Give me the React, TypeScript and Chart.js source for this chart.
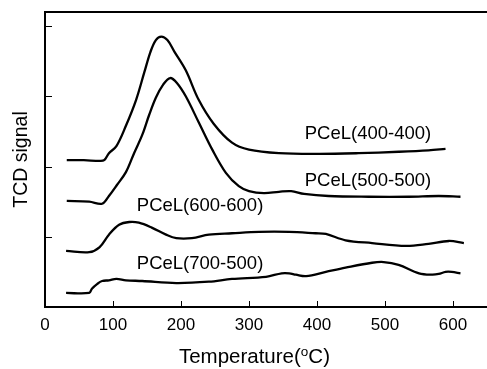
import React, { useEffect, useRef } from "react";
import { Chart, registerables } from "chart.js";

Chart.register(...registerables);

// Temperature (°C) / TCD signal (a.u.) readings
const t400 = [32, 57, 80, 87, 94, 105, 119, 134, 146, 155, 163, 171, 180, 190, 207, 226, 248, 275, 300, 344, 403, 461, 520, 564, 589];
const v400 = [2.09, 2.09, 2.08, 2.09, 2.19, 2.29, 2.58, 2.95, 3.34, 3.63, 3.8, 3.85, 3.8, 3.64, 3.37, 2.95, 2.61, 2.34, 2.24, 2.19, 2.18, 2.19, 2.21, 2.23, 2.25];

const t500 = [32, 65, 84, 94, 106, 119, 131, 143, 153, 163, 174, 184, 194, 207, 226, 246, 266, 285, 300, 322, 344, 362, 381, 417, 476, 535, 579, 611];
const v500 = [1.51, 1.5, 1.47, 1.58, 1.74, 1.92, 2.19, 2.45, 2.73, 2.98, 3.17, 3.26, 3.19, 3.0, 2.63, 2.24, 1.91, 1.72, 1.65, 1.62, 1.64, 1.65, 1.61, 1.58, 1.57, 1.57, 1.58, 1.57];

const t600 = [31, 65, 80, 94, 109, 124, 138, 157, 178, 193, 216, 241, 275, 315, 359, 398, 413, 442, 481, 531, 564, 594, 616];
const v600 = [0.8, 0.78, 0.85, 1.03, 1.17, 1.21, 1.2, 1.13, 1.03, 0.98, 0.98, 1.03, 1.05, 1.07, 1.07, 1.05, 1.04, 0.95, 0.91, 0.87, 0.9, 0.94, 0.91];

const t700 = [31, 65, 69, 77, 84, 94, 105, 119, 143, 193, 241, 275, 325, 348, 359, 369, 384, 413, 442, 481, 498, 520, 550, 569, 579, 589, 598, 611];
const v700 = [0.2, 0.2, 0.26, 0.33, 0.37, 0.38, 0.4, 0.38, 0.37, 0.34, 0.36, 0.4, 0.43, 0.48, 0.48, 0.46, 0.44, 0.5, 0.56, 0.63, 0.64, 0.6, 0.48, 0.46, 0.47, 0.5, 0.5, 0.48];

const seriesNames = ["PCeL(400-400)", "PCeL(500-500)", "PCeL(600-600)", "PCeL(700-500)"];
// label anchors in data units (temperature, signal)
const labelX = [382, 382, 135, 135];
const labelY = [2.46, 1.79, 1.445, 0.62];

const xTicks = [0, 100, 200, 300, 400, 500, 600];
const yTicks = [1, 2, 3, 4];

const xTitleParts = ["Temperature(", "o", "C)"];

const FONT = "'Liberation Sans', Arial, Helvetica, sans-serif";

function pts(xs: number[], ys: number[]) {
  return xs.map((x, i) => ({ x, y: ys[i] }));
}

const decorPlugin = {
  id: "decor",
  afterDraw(chart: any) {
    const { ctx, chartArea, scales } = chart;
    const xs = scales.x;
    const ys = scales.y;
    ctx.save();
    ctx.strokeStyle = "#000";
    // top frame line
    ctx.lineWidth = 2;
    ctx.beginPath();
    ctx.moveTo(chartArea.left - 1, chartArea.top);
    ctx.lineTo(chartArea.right, chartArea.top);
    ctx.stroke();
    // inward ticks
    ctx.lineWidth = 1;
    ctx.beginPath();
    xTicks.forEach((v) => {
      const px = Math.round(xs.getPixelForValue(v)) + 0.5;
      ctx.moveTo(px, chartArea.bottom);
      ctx.lineTo(px, chartArea.bottom - 6);
    });
    yTicks.forEach((v) => {
      const py = Math.round(ys.getPixelForValue(v)) + 0.5;
      ctx.moveTo(chartArea.left, py);
      ctx.lineTo(chartArea.left + 7, py);
    });
    ctx.stroke();
    // series labels
    ctx.fillStyle = "#000";
    ctx.font = `18.5px ${FONT}`;
    ctx.textAlign = "left";
    ctx.textBaseline = "middle";
    seriesNames.forEach((name, i) => {
      ctx.fillText(name, xs.getPixelForValue(labelX[i]), ys.getPixelForValue(labelY[i]));
    });
    // x axis title with superscript o
    const big = `20.5px ${FONT}`;
    const small = `13.5px ${FONT}`;
    ctx.textBaseline = "alphabetic";
    ctx.font = big;
    const w0 = ctx.measureText(xTitleParts[0]).width;
    const w2 = ctx.measureText(xTitleParts[2]).width;
    ctx.font = small;
    const w1 = ctx.measureText(xTitleParts[1]).width;
    const total = w0 + w1 + w2;
    const cx = xs.getPixelForValue(308);
    let x = cx - total / 2;
    const base = chart.height - 6;
    ctx.font = big;
    ctx.fillText(xTitleParts[0], x, base);
    x += w0;
    ctx.font = small;
    ctx.fillText(xTitleParts[1], x, base - 7.5);
    x += w1;
    ctx.font = big;
    ctx.fillText(xTitleParts[2], x, base);
    ctx.restore();
  },
};

export default function App() {
  const ref = useRef<HTMLCanvasElement | null>(null);
  useEffect(() => {
    if (!ref.current) return;
    const line = (d: { x: number; y: number }[]) => ({
      data: d,
      borderColor: "#000",
      borderWidth: 2.3,
      pointRadius: 0,
      fill: false,
      tension: 0.35,
    });
    const chart = new Chart(ref.current, {
      type: "line",
      data: {
        datasets: [
          line(pts(t400, v400)),
          line(pts(t500, v500)),
          line(pts(t600, v600)),
          line(pts(t700, v700)),
        ],
      },
      options: {
        responsive: false,
        animation: false,
        layout: { padding: { top: 12, right: 0, left: 0, bottom: 25.6 } },
        plugins: { legend: { display: false }, tooltip: { enabled: false } },
        scales: {
          x: {
            type: "linear",
            min: 0,
            max: 650,
            afterBuildTicks: (s: any) => {
              s.ticks = xTicks.map((v) => ({ value: v }));
            },
            ticks: { color: "#000", padding: 8, autoSkip: false, maxRotation: 0, font: { family: FONT, size: 17 } },
            grid: { display: false, drawTicks: false, tickLength: 0 },
            border: { display: true, color: "#000", width: 2 },
            title: { display: false },
          },
          y: {
            type: "linear",
            min: 0,
            max: 4.2,
            afterBuildTicks: (s: any) => {
              s.ticks = yTicks.map((v) => ({ value: v }));
            },
            ticks: { display: false },
            grid: { display: false, drawTicks: false, tickLength: 0 },
            border: { display: true, color: "#000", width: 2 },
            title: {
              display: true,
              text: "TCD signal",
              color: "#000",
              font: { family: FONT, size: 19.5 },
              padding: { top: 10, bottom: 11.6 },
            },
          },
        },
      },
      plugins: [decorPlugin],
    });
    return () => chart.destroy();
  }, []);
  return (
    <div style={{ position: "absolute", left: 0, top: 0, width: 487, height: 369, background: "#fff" }}>
      <canvas ref={ref} width={487} height={369} style={{ display: "block" }} />
    </div>
  );
}
